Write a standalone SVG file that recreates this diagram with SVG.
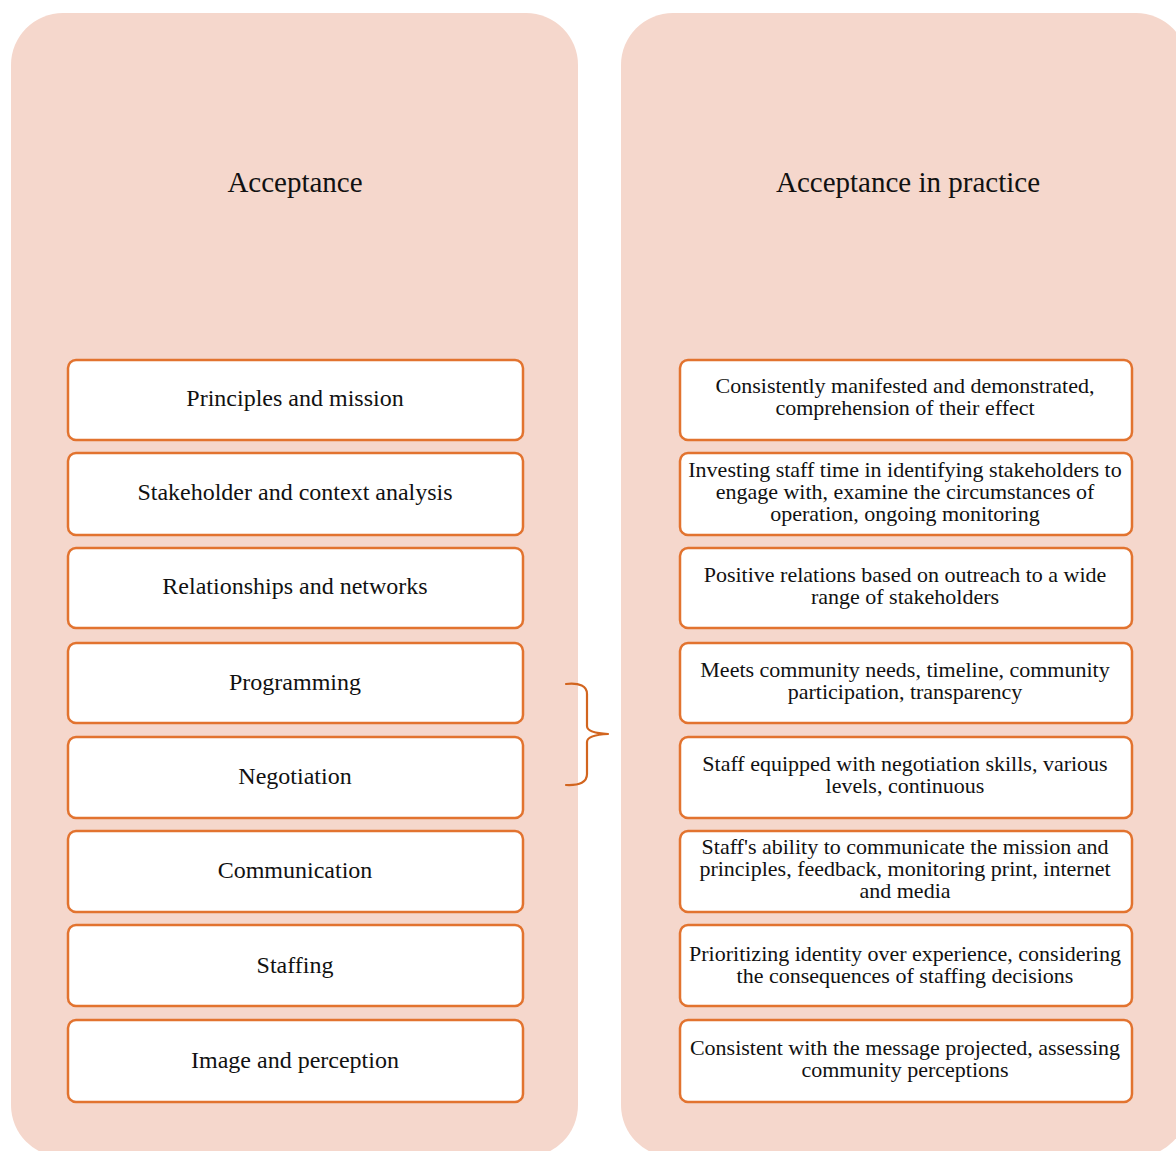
<svg xmlns="http://www.w3.org/2000/svg" width="1176" height="1151" viewBox="0 0 1176 1151">
<style>
.panel{fill:#F5D7CC;stroke:none}
.box{fill:#FFFFFF;stroke:#E2732F;stroke-width:2.5}
.title{font-family:"Liberation Serif","Times New Roman",serif;font-size:29px;fill:#111;text-anchor:middle}
.lbl{font-family:"Liberation Serif","Times New Roman",serif;font-size:24px;fill:#111;text-anchor:middle}
.txt{font-family:"Liberation Serif","Times New Roman",serif;font-size:22px;fill:#111;text-anchor:middle}
.brace{fill:none;stroke:#D2651F;stroke-width:2.2;stroke-linecap:round;stroke-linejoin:round}
</style>
<rect width="1176" height="1151" fill="#FFFFFF"/>
<g id="panel-left">
<rect class="panel" x="11" y="13" width="567" height="1144" rx="52" ry="52"/>
<text class="title" x="295" y="192">Acceptance</text>
</g>
<g id="panel-right">
<rect class="panel" x="621" y="13" width="567" height="1144" rx="52" ry="52"/>
<text class="title" x="908" y="192">Acceptance in practice</text>
</g>
<g id="left-boxes">
<g id="l1"><rect class="box" x="68" y="360" width="455" height="80" rx="8"/><text class="lbl" x="295" y="406">Principles and mission</text></g>
<g id="l2"><rect class="box" x="68" y="453" width="455" height="82" rx="8"/><text class="lbl" x="295" y="500">Stakeholder and context analysis</text></g>
<g id="l3"><rect class="box" x="68" y="548" width="455" height="80" rx="8"/><text class="lbl" x="295" y="594">Relationships and networks</text></g>
<g id="l4"><rect class="box" x="68" y="643" width="455" height="80" rx="8"/><text class="lbl" x="295" y="690">Programming</text></g>
<g id="l5"><rect class="box" x="68" y="737" width="455" height="81" rx="8"/><text class="lbl" x="295" y="784">Negotiation</text></g>
<g id="l6"><rect class="box" x="68" y="831" width="455" height="81" rx="8"/><text class="lbl" x="295" y="878">Communication</text></g>
<g id="l7"><rect class="box" x="68" y="925" width="455" height="81" rx="8"/><text class="lbl" x="295" y="973">Staffing</text></g>
<g id="l8"><rect class="box" x="68" y="1020" width="455" height="82" rx="8"/><text class="lbl" x="295" y="1068">Image and perception</text></g>
</g>
<g id="right-boxes">
<g id="r1"><rect class="box" x="680" y="360" width="452" height="80" rx="8"/><text class="txt" x="905"><tspan x="905" y="393">Consistently manifested and demonstrated,</tspan><tspan x="905" y="415">comprehension of their effect</tspan></text></g>
<g id="r2"><rect class="box" x="680" y="453" width="452" height="82" rx="8"/><text class="txt" x="905"><tspan x="905" y="477">Investing staff time in identifying stakeholders to</tspan><tspan x="905" y="499">engage with, examine the circumstances of</tspan><tspan x="905" y="521">operation, ongoing monitoring</tspan></text></g>
<g id="r3"><rect class="box" x="680" y="548" width="452" height="80" rx="8"/><text class="txt" x="905"><tspan x="905" y="582">Positive relations based on outreach to a wide</tspan><tspan x="905" y="604">range of stakeholders</tspan></text></g>
<g id="r4"><rect class="box" x="680" y="643" width="452" height="80" rx="8"/><text class="txt" x="905"><tspan x="905" y="677">Meets community needs, timeline, community</tspan><tspan x="905" y="699">participation, transparency</tspan></text></g>
<g id="r5"><rect class="box" x="680" y="737" width="452" height="81" rx="8"/><text class="txt" x="905"><tspan x="905" y="771">Staff equipped with negotiation skills, various</tspan><tspan x="905" y="793">levels, continuous</tspan></text></g>
<g id="r6"><rect class="box" x="680" y="831" width="452" height="81" rx="8"/><text class="txt" x="905"><tspan x="905" y="854">Staff's ability to communicate the mission and</tspan><tspan x="905" y="876">principles, feedback, monitoring print, internet</tspan><tspan x="905" y="898">and media</tspan></text></g>
<g id="r7"><rect class="box" x="680" y="925" width="452" height="81" rx="8"/><text class="txt" x="905"><tspan x="905" y="961">Prioritizing identity over experience, considering</tspan><tspan x="905" y="983">the consequences of staffing decisions</tspan></text></g>
<g id="r8"><rect class="box" x="680" y="1020" width="452" height="82" rx="8"/><text class="txt" x="905"><tspan x="905" y="1055">Consistent with the message projected, assessing</tspan><tspan x="905" y="1077">community perceptions</tspan></text></g>
</g>
<g id="connectors">
<path class="brace" d="M566,684 Q587,682 587,694 L587,726 Q587,733 608,734 Q587,735 587,742 L587,774 Q587,786 566,785"/>
</g>
</svg>
